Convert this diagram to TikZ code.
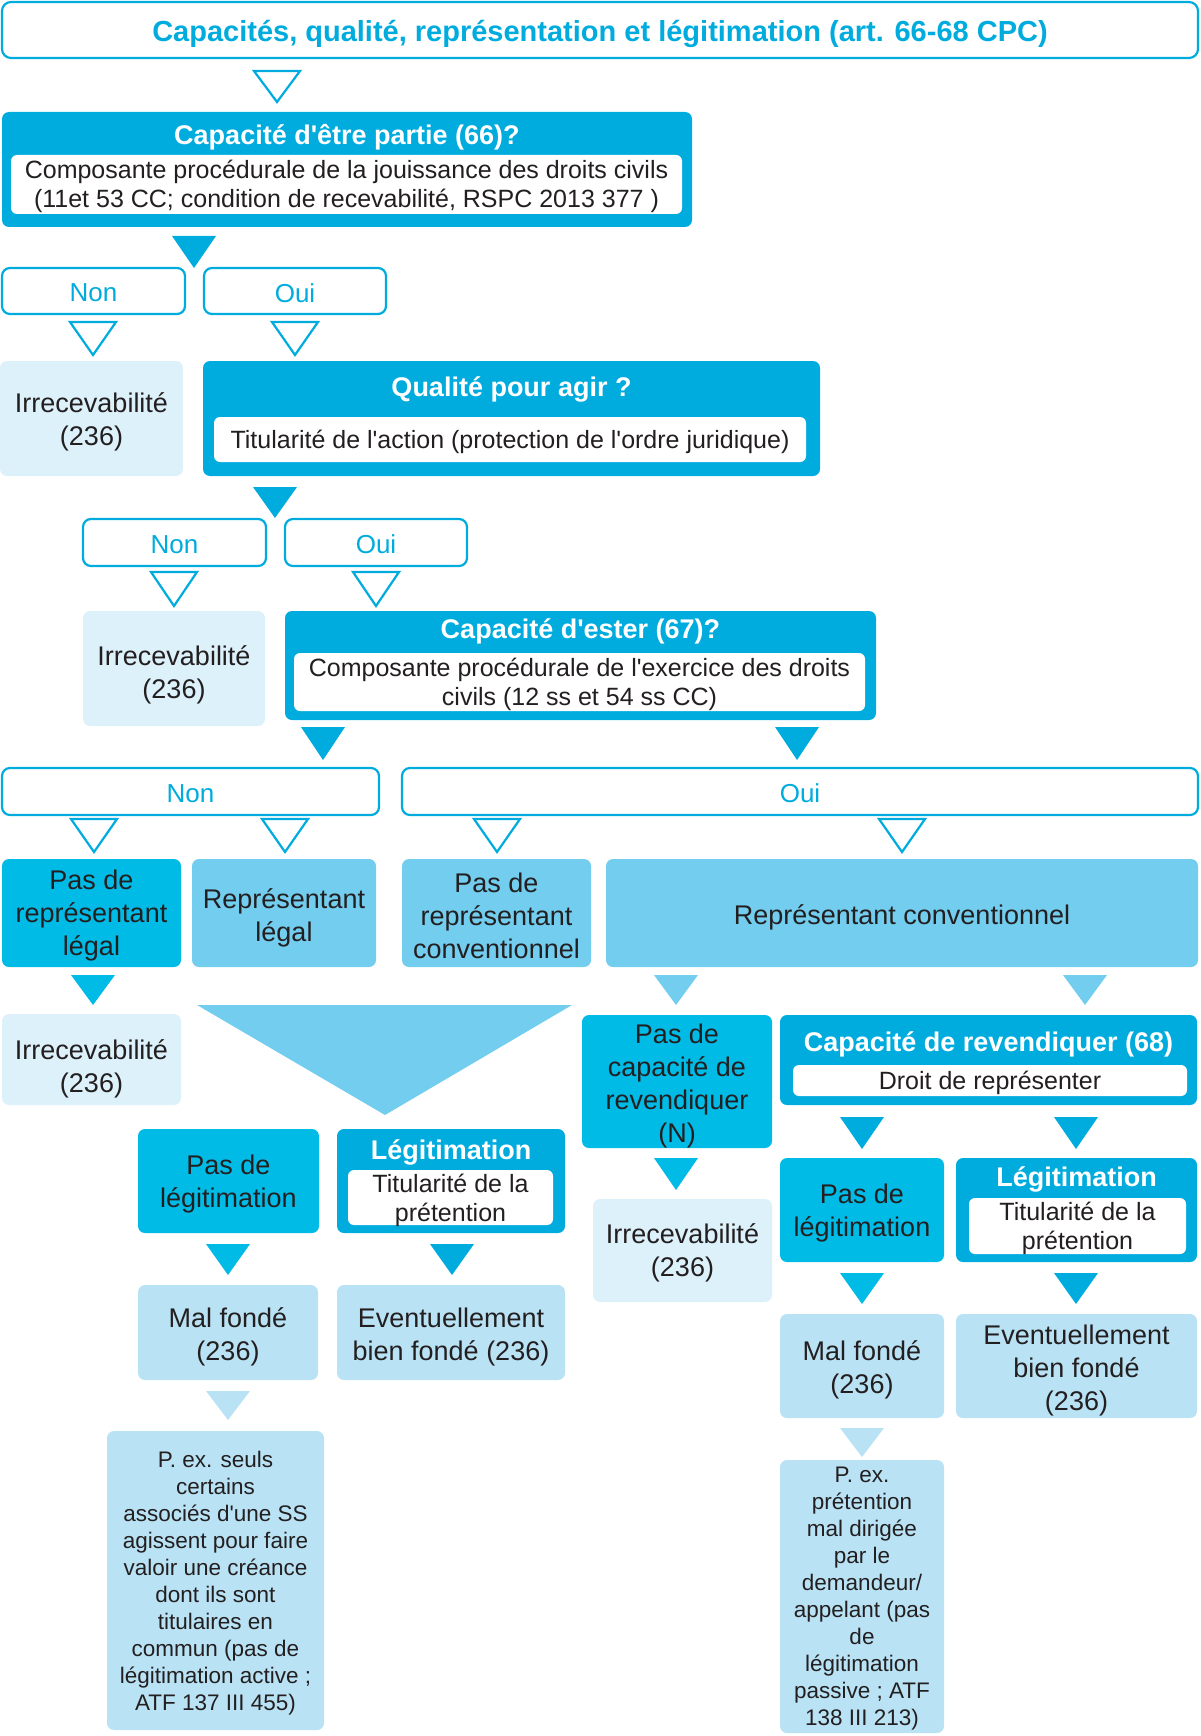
\documentclass[tikz,border=0pt]{standalone}
\usepackage{fontspec}
\setmainfont{Liberation Sans}[Ligatures=TeXOff]
\definecolor{dk}{RGB}{0,172,222}
\definecolor{br}{RGB}{0,187,230}
\definecolor{lt}{RGB}{114,205,239}
\definecolor{pl}{RGB}{185,227,245}
\definecolor{vp}{RGB}{221,241,251}
\definecolor{ink}{RGB}{35,31,32}
\newcommand{\fz}[2]{\fontsize{#1}{#2}\selectfont}
% filled down triangle: style, centre x, top y, bottom y
\newcommand{\dtri}[4]{\fill[#1] (#2-22,#3) -- (#2+22,#3) -- (#2,#4) -- cycle;}
% open down triangle
\newcommand{\otri}[3]{\draw[dk,line width=2.2pt,fill=white,line join=miter] (#1-23,#2) -- (#1+23,#2) -- (#1,#3) -- cycle;}
% text of a box: style, box name, downward shift, text
\newcommand{\bt}[4][tm]{\node[#1] (#2t) at ([yshift=-#3pt]#2.center) {#4};}
\begin{document}
\begin{tikzpicture}[x=1pt,y=-1pt,
  every node/.style={inner sep=0pt,align=center,text=ink},
  bx/.style={rounded corners=7pt},
  tm/.style={font=\fz{27}{33}},
  ti/.style={font=\fz{25}{29}},
  tn/.style={font=\fz{22.5}{27}},
  tyn/.style={text=dk,font=\fz{26}{30}},
  yn/.style={rounded corners=8pt,draw=dk,line width=2.2pt,fill=white},
  hd/.style={bx,fill=dk},
  hdt/.style={text=white,font=\bfseries\fz{27}{30}},
  inr/.style={rounded corners=6pt,fill=white},
  note/.style={rounded corners=7pt,fill=pl}]
\useasboundingbox (0,0) rectangle (1200,1736);

% title
\node[yn,rounded corners=9pt,minimum width=1196pt,minimum height=56pt] (title) at (600,30) {};
\bt[text=dk,font=\bfseries\fz{29}{32}]{title}{4}{Capacités, qualité, représentation et légitimation (art. 66-68 CPC)}
\otri{277}{71}{102}

% capacite d'etre partie
\node[hd,minimum width=690pt,minimum height=115pt] (cap66) at (347,169.5) {};
\node[hdt] (cap66h) at (347,137) {Capacité d'être partie (66)?};
\node[inr,minimum width=671pt,minimum height=59pt] (cap66i) at (346.5,184.5) {};
\bt[ti]{cap66i}{2}{Composante procédurale de la jouissance des droits civils\\(11et 53 CC; condition de recevabilité, RSPC 2013 377 )}
\dtri{dk}{194}{236}{268}

\node[yn,minimum width=183pt,minimum height=46pt] (non1) at (93.5,291) {};
\bt[tyn]{non1}{2}{Non}
\node[yn,minimum width=182pt,minimum height=46pt] (oui1) at (295,291) {};
\bt[tyn]{oui1}{2}{Oui}
\otri{93}{322}{355}
\otri{295}{322}{355}

\node[bx,fill=vp,minimum width=183pt,minimum height=115pt] (irr1) at (91.5,418.5) {};
\bt{irr1}{3}{Irrecevabilité\\(236)}
\node[hd,minimum width=617pt,minimum height=115pt] (qual) at (511.5,418.5) {};
\node[hdt] (qualh) at (511.5,389) {Qualité pour agir ?};
\node[inr,minimum width=592pt,minimum height=45pt] (quali) at (510,439.5) {};
\bt[ti]{quali}{2}{Titularité de l'action (protection de l'ordre juridique)}
\dtri{dk}{275}{487}{518}

\node[yn,minimum width=183pt,minimum height=47pt] (non2) at (174.5,542.5) {};
\bt[tyn]{non2}{2}{Non}
\node[yn,minimum width=182pt,minimum height=47pt] (oui2) at (376,542.5) {};
\bt[tyn]{oui2}{2}{Oui}
\otri{174}{572}{606}
\otri{376}{572}{606}

\node[bx,fill=vp,minimum width=182pt,minimum height=115pt] (irr2) at (174,668.5) {};
\bt{irr2}{6}{Irrecevabilité\\(236)}
\node[hd,minimum width=591pt,minimum height=109pt] (ester) at (580.5,665.5) {};
\node[hdt] (esterh) at (580.5,631) {Capacité d'ester (67)?};
\node[inr,minimum width=571pt,minimum height=58pt] (esteri) at (579.5,682) {};
\bt[ti]{esteri}{2}{Composante procédurale de l'exercice des droits\\civils (12 ss et 54 ss CC)}
\dtri{dk}{323}{727}{760}
\dtri{dk}{797}{727}{760}

\node[yn,minimum width=377pt,minimum height=47pt] (non3) at (190.5,791.5) {};
\bt[tyn]{non3}{2}{Non}
\node[yn,minimum width=796pt,minimum height=47pt] (oui3) at (800,791.5) {};
\bt[tyn]{oui3}{2}{Oui}
\otri{94}{819}{852}
\otri{285}{819}{852}
\otri{497}{819}{852}
\otri{902}{819}{852}

% row of representatives
\node[bx,fill=br,minimum width=179pt,minimum height=108pt] (psrl) at (91.5,913) {};
\bt{psrl}{2.5}{Pas de\\représentant\\légal}
\node[bx,fill=lt,minimum width=184pt,minimum height=108pt] (rl) at (284,913) {};
\bt{rl}{5}{Représentant\\légal}
\node[bx,fill=lt,minimum width=189pt,minimum height=108pt] (psrc) at (496.5,913) {};
\bt{psrc}{2.5}{Pas de\\représentant\\conventionnel}
\node[bx,fill=lt,minimum width=592pt,minimum height=108pt] (rc) at (902,913) {};
\bt{rc}{4}{Représentant conventionnel}

\dtri{br}{93}{975}{1005}
\dtri{lt}{676}{975}{1005}
\dtri{lt}{1085}{975}{1005}
\fill[lt] (197,1005) -- (572,1005) -- (385,1115) -- cycle;

\node[bx,fill=vp,minimum width=179pt,minimum height=91pt] (irr3) at (91.5,1059.5) {};
\bt{irr3}{9}{Irrecevabilité\\(236)}

% right branch
\node[bx,fill=br,minimum width=190pt,minimum height=133pt] (pcr) at (677,1081.5) {};
\bt{pcr}{4}{Pas de\\capacité de\\revendiquer\\(N)}
\node[hd,minimum width=417pt,minimum height=90pt] (caprev) at (988.5,1060) {};
\node[hdt] (caprevh) at (988.5,1044) {Capacité de revendiquer (68)};
\node[inr,minimum width=394pt,minimum height=31pt] (caprevi) at (990,1080.5) {};
\bt[ti]{caprevi}{2}{Droit de représenter}
\dtri{br}{676}{1158}{1190}
\dtri{dk}{862}{1117}{1149}
\dtri{dk}{1076}{1117}{1149}

\node[bx,fill=vp,minimum width=179pt,minimum height=103pt] (irr4) at (682.5,1250.5) {};
\bt{irr4}{2}{Irrecevabilité\\(236)}
\node[bx,fill=br,minimum width=164pt,minimum height=104pt] (pdl2) at (862,1210) {};
\bt{pdl2}{3}{Pas de\\légitimation}
\node[hd,minimum width=241pt,minimum height=104pt] (leg2) at (1076.5,1210) {};
\node[hdt] (leg2h) at (1076.5,1179) {Légitimation};
\node[inr,minimum width=217pt,minimum height=56pt] (leg2i) at (1077.5,1226) {};
\bt[ti]{leg2i}{2}{Titularité de la\\prétention}
\dtri{br}{862}{1273}{1304}
\dtri{dk}{1076}{1273}{1304}

\node[bx,fill=pl,minimum width=164pt,minimum height=104pt] (mf2) at (862,1366) {};
\bt{mf2}{4}{Mal fondé\\(236)}
\node[bx,fill=pl,minimum width=241pt,minimum height=104pt] (ebf2) at (1076.5,1366) {};
\bt{ebf2}{4}{Eventuellement\\bien fondé\\(236)}
\dtri{pl}{862}{1428}{1457}
\node[note,minimum width=164pt,minimum height=273pt] (note2) at (862,1596.5) {};
\bt[tn]{note2}{2}{P. ex.\\prétention\\mal dirigée\\par le\\demandeur/\\appelant (pas\\de\\légitimation\\passive ; ATF\\138 III 213)}

% left branch
\node[bx,fill=br,minimum width=181pt,minimum height=104pt] (pdl1) at (228.5,1181) {};
\bt{pdl1}{3}{Pas de\\légitimation}
\node[hd,minimum width=228pt,minimum height=104pt] (leg1) at (451,1181) {};
\node[hdt] (leg1h) at (451,1152) {Légitimation};
\node[inr,minimum width=205pt,minimum height=55pt] (leg1i) at (450.5,1197.5) {};
\bt[ti]{leg1i}{3}{Titularité de la\\prétention}
\dtri{br}{228}{1244}{1275}
\dtri{dk}{452}{1244}{1275}

\node[bx,fill=pl,minimum width=180pt,minimum height=95pt] (mf1) at (228,1332.5) {};
\bt{mf1}{4}{Mal fondé\\(236)}
\node[bx,fill=pl,minimum width=228pt,minimum height=95pt] (ebf1) at (451,1332.5) {};
\bt{ebf1}{4}{Eventuellement\\bien fondé (236)}
\dtri{pl}{228}{1391}{1420}
\node[note,minimum width=217pt,minimum height=299pt] (note1) at (215.5,1580.5) {};
\bt[tn]{note1}{3}{P. ex. seuls\\certains\\associés d'une SS\\agissent pour faire\\valoir une créance\\dont ils sont\\titulaires en\\commun (pas de\\légitimation active ;\\ATF 137 III 455)}
\end{tikzpicture}
\end{document}
